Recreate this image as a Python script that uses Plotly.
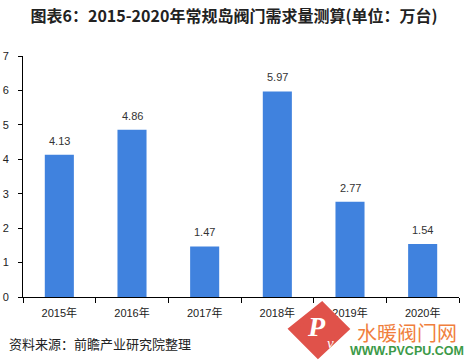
import plotly.graph_objects as go

categories = ["2015年", "2016年", "2017年", "2018年", "2019年", "2020年"]
values = [4.13, 4.86, 1.47, 5.97, 2.77, 1.54]
labels = ["4.13", "4.86", "1.47", "5.97", "2.77", "1.54"]
y_ticks = [0, 1, 2, 3, 4, 5, 6, 7]

FONT = "Liberation Sans, Noto Sans CJK SC, sans-serif"
CJK = "Noto Sans CJK SC, sans-serif"

fig = go.Figure(go.Bar(
    x=categories, y=values,
    marker=dict(color="#4082DE", line=dict(width=0)),
    hoverinfo="x+y",
))

for c, v, t in zip(categories, values, labels):
    fig.add_annotation(x=c, y=v, text=t, showarrow=False, yshift=14,
                       yanchor="middle",
                       font=dict(size=11, color="#333333", family=FONT))

fig.update_layout(
    width=468, height=363,
    margin=dict(l=23, r=9, t=56, b=66, autoexpand=False),
    paper_bgcolor="white", plot_bgcolor="white",
    bargap=0.6,
    showlegend=False,
    font=dict(family=FONT, color="#222222"),
    title=dict(text="<b>图表6：2015-2020年常规岛阀门需求量测算(单位：万台)</b>",
               x=0.5, xanchor="center", y=0.956, yanchor="middle",
               font=dict(size=16, color="#222222", family=CJK)),
)

fig.update_xaxes(
    type="category", tickson="boundaries", automargin=False,
    showline=True, linecolor="#000000", linewidth=1,
    ticks="outside", ticklen=5, tickcolor="#000000",
    ticklabelstandoff=6,
    tickfont=dict(size=11, color="#222222", family=FONT),
    showgrid=False,
)
fig.update_yaxes(
    range=[0, 7], tickvals=y_ticks, automargin=False,
    showline=True, linecolor="#000000", linewidth=1,
    ticks="outside", ticklen=4, tickcolor="#000000",
    ticklabelstandoff=7,
    tickfont=dict(size=11, color="#222222", family=FONT),
    showgrid=False, zeroline=False,
)

fig.add_annotation(text="资料来源：前瞻产业研究院整理", xref="paper", yref="paper",
                   x=-0.0367, y=-0.191, xanchor="left", yanchor="middle", showarrow=False,
                   font=dict(size=13, color="#222222", family=CJK))


def px(xp, yp):
    return (xp - 23) / 436, (297 - yp) / 241


# watermark logo (decorative): red diamond drawn as a paper-referenced path
pts = [px(322, 305), px(346, 329), px(318, 355), px(292, 329)]
path = "M " + " L ".join(f"{a:.4f},{b:.4f}" for a, b in pts) + " Z"
fig.add_shape(type="path", xref="paper", yref="paper", path=path,
              fillcolor="#E0524A", line=dict(width=6, color="#E0524A"),
              layer="above", opacity=1)

lx, ly = px(316, 326)
fig.add_annotation(text="<i><b>P</b></i>", xref="paper", yref="paper",
                   x=lx, y=ly, showarrow=False, xanchor="center", yanchor="middle",
                   font=dict(size=28, color="white", family="Liberation Serif"))
lx, ly = px(330, 343)
fig.add_annotation(text="<i>v</i>", xref="paper", yref="paper",
                   x=lx, y=ly, showarrow=False, xanchor="center", yanchor="middle",
                   font=dict(size=15, color="white", family="Liberation Serif"))
lx, ly = px(407, 332)
fig.add_annotation(text="水暖阀门网", xref="paper", yref="paper",
                   x=lx, y=ly, showarrow=False, xanchor="center", yanchor="middle",
                   font=dict(size=20, color="#F07F3E", family=CJK))
lx, ly = px(407, 351)
fig.add_annotation(text="<b>WWW.PVCPU.COM</b>", xref="paper", yref="paper",
                   x=lx, y=ly, showarrow=False, xanchor="center", yanchor="middle",
                   font=dict(size=12.5, color="#3C9A48", family=FONT))

fig.write_html("out.html", config={"displayModeBar": False},
               post_script="document.body.style.margin='0';")
